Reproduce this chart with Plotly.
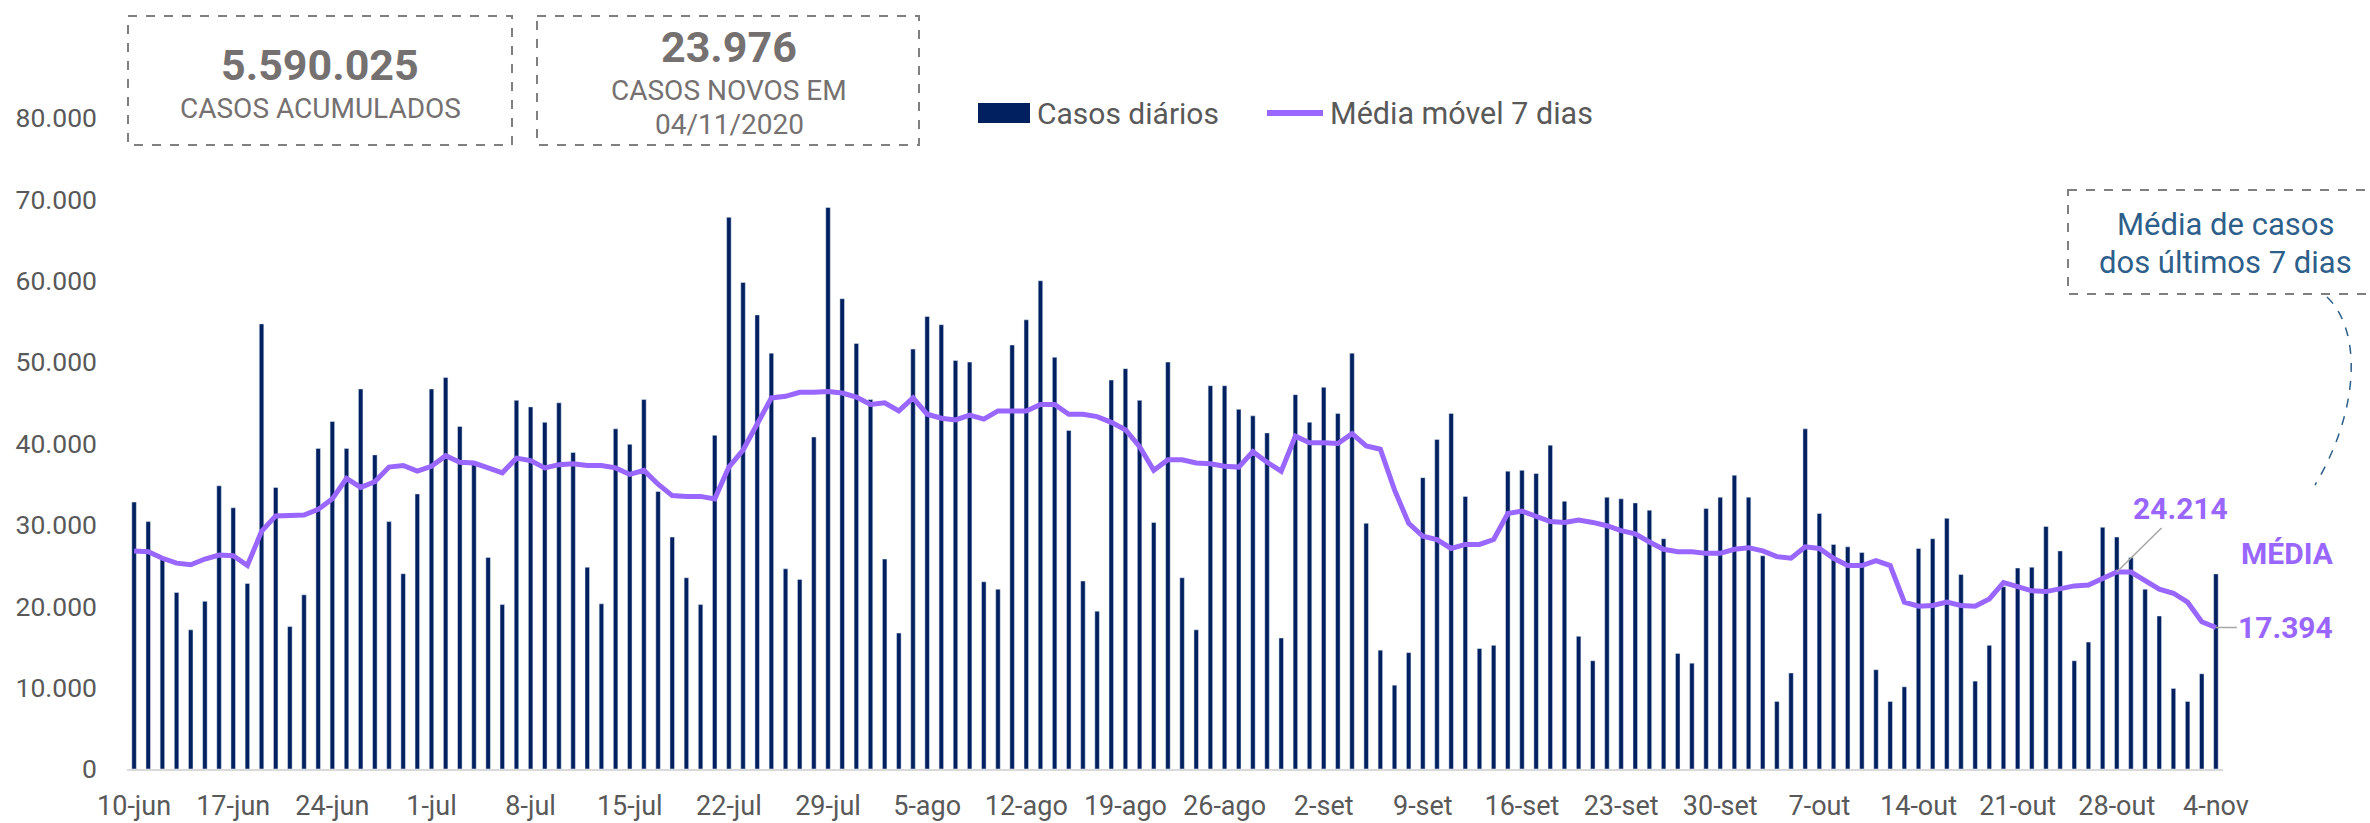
import pandas as pd
import plotly.graph_objects as go

# ---------------- data ----------------
start_date = "2020-06-10"
n_days = 148
month_pt = {6: "jun", 7: "jul", 8: "ago", 9: "set", 10: "out", 11: "nov"}

casos_diarios = [
    32800, 30400, 25900, 21700, 17100, 20600, 34800, 32100, 22800, 54700,
    34600, 17500, 21400, 39400, 42700, 39400, 46700, 38600, 30400, 24000,
    33800, 46700, 48100, 42100, 37600, 26000, 20200, 45300, 44500, 42600,
    45000, 38900, 24800, 20300, 41800, 39900, 45400, 34100, 28500, 23500,
    20200, 41000, 67800, 59800, 55800, 51100, 24600, 23300,
    40800, 69000, 57800, 52300, 45400, 25800, 16700, 51600, 55600, 54600,
    50200, 50000, 23000, 22100, 52100, 55200, 60000, 50600, 41600, 23100,
    19400, 47800, 49200, 45300, 30300, 50000, 23500, 17100, 47100, 47100,
    44200, 43400, 41300, 16100, 46000, 42600, 46900, 43700, 51100, 30200,
    14600, 10300, 14300, 35800, 40500, 43700, 33500, 14800, 15200, 36600,
    36700, 36300, 39800,
    32900, 16300, 13300, 33400, 33200, 32700, 31800, 28300, 14200, 13000,
    32000, 33400, 36100, 33400, 26200, 8300, 11800, 41800, 31400, 27600,
    27300, 26600, 12200, 8300, 10100, 27100, 28300, 30800, 23900, 10800,
    15200, 22400, 24700, 24800, 29800, 26800, 13300, 15600, 29700, 28500,
    26000, 22100, 18800, 9900, 8300, 11700, 23976,
]

media_movel = [
    26800, 26700, 25900, 25300, 25100, 25800, 26300, 26200, 25000, 29200,
    31100, 31100, 31200, 31900, 33200, 35700, 34600, 35300, 37100, 37300,
    36600, 37200, 38500, 37700, 37600, 37000, 36400, 38200, 37900, 37000,
    37400, 37500, 37300, 37300, 37000, 36200, 36700, 35000, 33600, 33500,
    33500, 33200, 37100, 39200, 42400, 45600, 45800, 46300,
    46300, 46400, 46200, 45700, 44800, 45000, 44000, 45600, 43600, 43100,
    42900, 43500, 43000, 44000, 44000, 44000, 44800, 44800, 43600, 43600,
    43300, 42600, 41700, 39600, 36700, 38000, 38000, 37600, 37500, 37200,
    37100, 39000, 37700, 36600, 40900, 40100, 40100, 40000, 41200, 39700,
    39300, 34300, 30200, 28600, 28200, 27100, 27600, 27600, 28200, 31400,
    31700, 31000, 30400,
    30300, 30600, 30300, 29900, 29300, 28900, 27900, 27000, 26700, 26700,
    26500, 26500, 27000, 27200, 26800, 26100, 25900, 27300, 27100, 25900,
    25000, 25000, 25600, 25000, 20500, 20000, 20100, 20500, 20100, 20000,
    20900, 22900, 22400, 21900, 21800, 22200, 22500, 22600, 23400, 24214,
    24200, 23200, 22100, 21600, 20500, 18100, 17394,
]

y_tick_values = [0, 10000, 20000, 30000, 40000, 50000, 60000, 70000, 80000]
casos_acumulados = 5590025
casos_novos = 23976
data_novos = "04/11/2020"
idx_pico = 140  # point labelled 24.214

# ---------------- helpers ----------------
dates = pd.date_range(start_date, periods=n_days)
day_labels = [f"{d.day}-{month_pt[d.month]}" for d in dates]
x_idx = list(range(n_days))
tick_idx = x_idx[::7]


def fmt(v):
    return f"{v:,}".replace(",", ".")


W, H = 2370, 823
ML, MR, MT, MB = 127, 147, 118, 54
PW, PH = W - ML - MR, H - MT - MB


def px(x):
    return (x - ML) / PW


def py(y):
    return (H - MB - y) / PH


NAVY = "#002060"
PURPLE = "#9966FF"
GRAY_TXT = "#595959"
CARD_TXT = "#767171"
BOX = "#808080"
BLUE_TXT = "#2E5F8A"
FONT = "Roboto"

fig = go.Figure()
fig.add_trace(go.Bar(x=x_idx, y=casos_diarios, marker_color=NAVY,
                     name="Casos diários", showlegend=False))
fig.add_trace(go.Scatter(x=x_idx, y=media_movel, mode="lines",
                         line=dict(color=PURPLE, width=5),
                         name="Média móvel 7 dias", showlegend=False))

shapes = []
annotations = []


def box(x0, y0, x1, y1):
    shapes.append(dict(type="rect", xref="paper", yref="paper",
                       x0=px(x0), x1=px(x1), y0=py(y0), y1=py(y1),
                       line=dict(color=BOX, width=2, dash="dash"),
                       fillcolor="rgba(0,0,0,0)"))


def text(x, y, t, size, color, bold=False, xanchor="center"):
    annotations.append(dict(xref="paper", yref="paper", x=px(x), y=py(y),
                            text=f"<b>{t}</b>" if bold else t,
                            showarrow=False, xanchor=xanchor, yanchor="middle",
                            borderpad=0,
                            font=dict(family=FONT, size=size, color=color)))


# cards
box(128, 16, 512, 145)
box(537, 16, 919, 145)
text(320, 65, fmt(casos_acumulados), 43, CARD_TXT, bold=True)
text(320, 109, "CASOS ACUMULADOS", 28, CARD_TXT)
text(729, 47, fmt(casos_novos), 43, CARD_TXT, bold=True)
text(729, 90.5, "CASOS NOVOS EM", 28, CARD_TXT)
text(729, 124.5, data_novos, 28, CARD_TXT)

# legend (drawn)
shapes.append(dict(type="rect", xref="paper", yref="paper",
                   x0=px(978), x1=px(1030), y0=py(103), y1=py(123),
                   fillcolor=NAVY, line=dict(width=0)))
text(1036, 113, "Casos diários", 30, GRAY_TXT, xanchor="left")
shapes.append(dict(type="line", xref="paper", yref="paper",
                   x0=px(1267), x1=px(1323), y0=py(113), y1=py(113),
                   line=dict(color=PURPLE, width=6)))
text(1329, 113, "Média móvel 7 dias", 30.5, GRAY_TXT, xanchor="left")

# right note box
box(2068, 190, 2390, 294)
text(2225, 224, "Média de casos", 31, BLUE_TXT)
text(2225, 262, "dos últimos 7 dias", 31, BLUE_TXT)
shapes.append(dict(type="path", xref="paper", yref="paper",
                   path=(f"M {px(2327)},{py(297)} C {px(2362)},{py(330)} "
                         f"{px(2360)},{py(410)} {px(2315)},{py(485)}"),
                   line=dict(color=BLUE_TXT, width=1.5, dash="dash")))

# value labels on moving average
annotations.append(dict(x=idx_pico, y=media_movel[idx_pico], xref="x", yref="y",
                        text=f"<b>{fmt(media_movel[idx_pico])}</b>",
                        showarrow=True, arrowhead=0, arrowwidth=1.5,
                        arrowcolor="#A6A6A6", ax=64, ay=-63, standoff=0,
                        font=dict(family=FONT, size=30, color=PURPLE)))
annotations.append(dict(x=n_days - 1, y=media_movel[-1], xref="x", yref="y",
                        text=f"<b>{fmt(media_movel[-1])}</b>",
                        showarrow=True, arrowhead=0, arrowwidth=1.5,
                        arrowcolor="#A6A6A6", ax=70, ay=0, standoff=0,
                        font=dict(family=FONT, size=30, color=PURPLE)))
text(2287, 553, "MÉDIA", 30, PURPLE, bold=True)

fig.update_layout(
    width=W, height=H,
    margin=dict(l=ML, r=MR, t=MT, b=MB, pad=0, autoexpand=False),
    paper_bgcolor="white", plot_bgcolor="white",
    bargap=0.68,
    separators=",.",
    showlegend=False,
    font=dict(family=FONT, color=GRAY_TXT),
    shapes=shapes,
    annotations=annotations,
)
fig.update_xaxes(range=[-0.5, n_days - 0.5], tickmode="array",
                 tickvals=tick_idx, ticktext=[day_labels[i] for i in tick_idx],
                 tickangle=0, showgrid=False, zeroline=False, showline=True,
                 linecolor="#D9D9D9", linewidth=2, ticks="", automargin=False,
                 tickfont=dict(family=FONT, size=27, color=GRAY_TXT),
                 ticklabelstandoff=12)
fig.update_yaxes(range=[0, 80000], tickmode="array", tickvals=y_tick_values,
                 tickformat=",d", showgrid=False, zeroline=False,
                 showline=False, ticks="", automargin=False,
                 tickfont=dict(family=FONT, size=26.5, color=GRAY_TXT),
                 ticklabelstandoff=29)

fig.write_html("out.html", config={"displayModeBar": False},
               post_script="document.body.style.margin='0';")
